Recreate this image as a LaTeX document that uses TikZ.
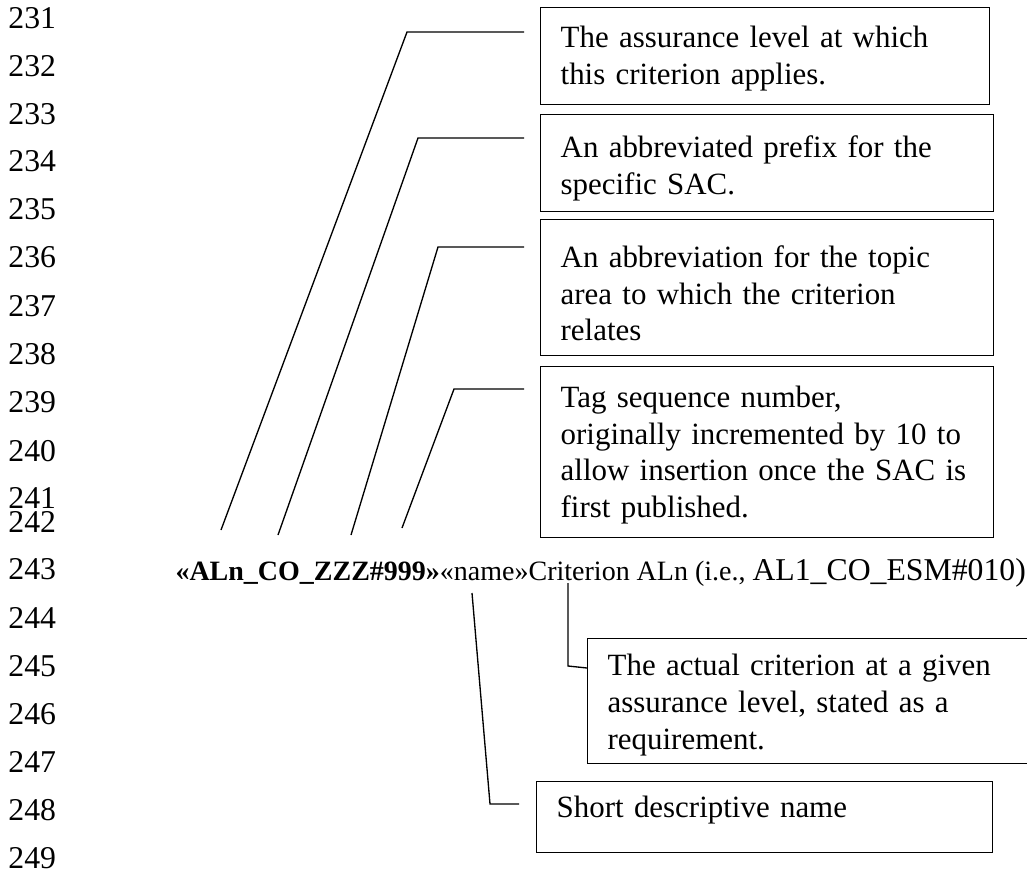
\documentclass[tikz,border=0pt]{standalone}
\usepackage{fontspec}
\setmainfont{Liberation Serif}
\tikzset{every picture/.style={line width=0.75pt}}
\tikzset{
  lnum/.style={anchor=west, inner sep=0pt, font=\fontsize{23.8}{27.5}\selectfont},
  infobox/.style={draw, line width=1pt, anchor=north west, inner xsep=15pt, inner ysep=0pt, align=left},
  leader/.style={line width=1pt},
}

\begin{document}
\begin{tikzpicture}[x=0.75pt,y=0.75pt,yscale=-1,xscale=1,font=\fontsize{23.2}{27.5}\selectfont]
\useasboundingbox (0,0) rectangle (1027,875);

% Line numbers
\foreach \n/\y in {231/18,232/66,233/114,234/161,235/209,236/257,237/306,238/354,239/402,240/451,241/498,242/522,243/569,244/618,245/666,246/714,247/762,248/810,249/858}
  \node[lnum] (n\n) at (8,\y) {\n};

% Text Node
\node[infobox, text width=306.75pt, text height=29.8pt, text depth=43pt] (level) at (540,7) {The assurance level at which\\this criterion applies.};
% Text Node
\node[infobox, text width=309.75pt, text height=32pt, text depth=40.7pt] (prefix) at (540,114) {An abbreviated prefix for the\\specific SAC.};
% Text Node
\node[infobox, text width=309.75pt, text height=35.8pt, text depth=66.2pt] (topic) at (540,219) {An abbreviation for the topic\\area to which the criterion\\relates};
% Text Node
\node[infobox, text width=309.75pt, text height=30.5pt, text depth=97.7pt] (seqno) at (540,366) {Tag sequence number,\\originally incremented by 10 to\\allow insertion once the SAC is\\first published.};
% Text Node
\node[infobox, text width=303.75pt, text height=27.75pt, text depth=66pt] (actual) at (587,638) {The actual criterion at a given\\assurance level, stated as a\\requirement.};
% Text Node
\node[infobox, text width=312pt, text height=27pt, text depth=26.25pt] (shortname) at (536,781) {Short descriptive name};

% Tag line
\node[anchor=base west, inner sep=0pt, font=\fontsize{21}{25}\selectfont] (tag) at (175,580) {\textbf{«ALn\_CO\_ZZZ\#999»}«name»Criterion ALn (i.e., {\fontsize{23.8}{27.5}\selectfont AL1\_CO\_ESM\#010)}};

%Straight Lines
\coordinate (level-tip) at (221,530);
\coordinate (level-bend) at (407,32);
\coordinate (level-end) at (524,32);
\draw[leader] (level-tip) -- (level-bend) -- (level-end);
%Straight Lines
\coordinate (prefix-tip) at (278,535);
\coordinate (prefix-bend) at (418,138);
\coordinate (prefix-end) at (524,138);
\draw[leader] (prefix-tip) -- (prefix-bend) -- (prefix-end);
%Straight Lines
\coordinate (topic-tip) at (351,535);
\coordinate (topic-bend) at (438,247);
\coordinate (topic-end) at (524,247);
\draw[leader] (topic-tip) -- (topic-bend) -- (topic-end);
%Straight Lines
\coordinate (seqno-tip) at (402,528);
\coordinate (seqno-bend) at (454,389);
\coordinate (seqno-end) at (524,389);
\draw[leader] (seqno-tip) -- (seqno-bend) -- (seqno-end);
%Straight Lines
\coordinate (actual-tip) at (568,583);
\coordinate (actual-bend) at (568,666);
\coordinate (actual-end) at (587,668);
\draw[leader] (actual-tip) -- (actual-bend) -- (actual-end);
%Straight Lines
\coordinate (short-tip) at (472,593);
\coordinate (short-bend) at (490,804);
\coordinate (short-end) at (519,804);
\draw[leader] (short-tip) -- (short-bend) -- (short-end);

\end{tikzpicture}
\end{document}
